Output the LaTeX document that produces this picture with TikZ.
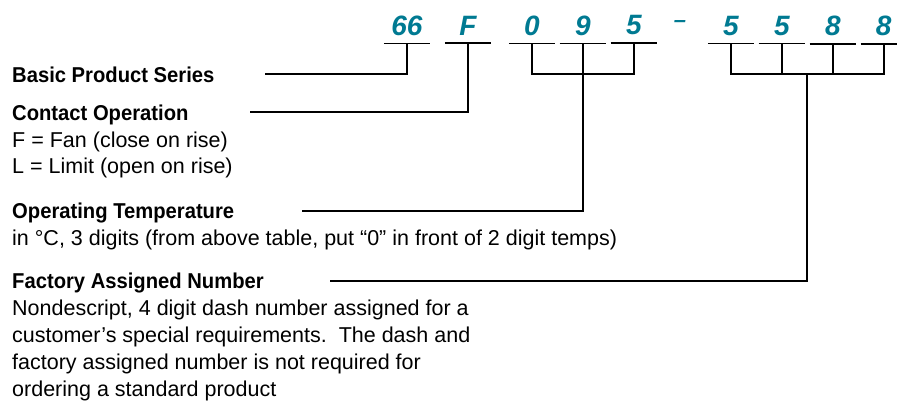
\documentclass[tikz,border=0pt]{standalone}
\usepackage{fontspec}
\setmainfont{Liberation Sans}
\newfontfamily\headfont[FakeStretch=0.94]{Liberation Sans}
\usepackage{tikz}
\usetikzlibrary{positioning,calc}

\definecolor{partteal}{RGB}{0,122,146}

\begin{document}
\begin{tikzpicture}[x=1pt,y=-1pt]
   \tikzset{
     digit/.style   = { font          = \fontsize{28}{30}\selectfont\bfseries\itshape,
                        text          = partteal,
                        minimum width = 46pt,
                        inner xsep    = 0pt,
                        inner ysep    = 8pt,
                        anchor        = base },
     heading/.style = { font       = \fontsize{21.5}{26}\selectfont\headfont\bfseries,
                        inner sep  = 0pt,
                        anchor     = base west },
     detail/.style  = { font       = \fontsize{21.5}{26}\selectfont,
                        inner sep  = 0pt,
                        anchor     = base west },
     rule/.style    = { line width = 1.8pt },
  }

  \useasboundingbox (0,0) rectangle (897,407);

  % part number
  \node [digit] (d66) at (407,35) {66};
  \node [digit] (dF)  at (468,35) {F};
  \node [digit] (d0)  at (532,35) {0};
  \node [digit, right = 4.5pt of d0] (d9)  {9};
  \node [digit, right = 4.5pt of d9] (d5a) {5};
  \node [digit, font = \fontsize{22}{24}\selectfont\bfseries\itshape,
         inner sep = 0pt, minimum width = 0pt] (dash) at (680,27) {–};
  \node [digit] (d5b) at (731,35) {5};
  \node [digit, right = 4.5pt of d5b] (d5c) {5};
  \node [digit, right = 4.5pt of d5c] (d8a) {8};
  \node [digit, right = 4.5pt of d8a] (d8b) {8};

  % labels
  \node [heading] (basic)   at (12,82)  {Basic Product Series};
  \node [heading] (contact) at (12,120) {Contact Operation};
  \node [detail]  (fan)     at (12,147) {F = Fan (close on rise)};
  \node [detail]  (limit)   at (12,173) {L = Limit (open on rise)};
  \node [heading] (optemp)  at (12,218) {Operating Temperature};
  \node [detail]  (tempinfo) at (12,245)
        {in °C, 3 digits (from above table, put “0” in front of 2 digit temps)};
  \node [heading] (factory) at (12,288) {Factory Assigned Number};
  \node [detail]  (factA)   at (12,315) {Nondescript, 4 digit dash number assigned for a};
  \node [detail]  (factB)   at (12,342) {customer’s special requirements.\ \ The dash and};
  \node [detail]  (factC)   at (12,369) {factory assigned number is not required for};
  \node [detail]  (factD)   at (12,396) {ordering a standard product};

  \coordinate (brk)         at (0,74);
  \coordinate (basicend)    at (265,74);
  \coordinate (contactend)  at (250,112);
  \coordinate (optempend)   at (302,211);
  \coordinate (factoryend)  at (330,281);
  \coordinate (dashmid)     at ($(d5c.south)!.5!(d8a.south)$);

  % underlines
  \foreach \d in {d66,dF,d0,d9,d5a,d5b,d5c,d8a,d8b}
    \draw [rule] (\d.south west) -- (\d.south east);

  % connectors
  \draw [rule] (basicend) -| (d66.south);
  \draw [rule] (contactend) -| (dF.south);
  \draw [rule] (d0.south) |- (d5a.south |- brk) -- (d5a.south);
  \draw [rule] (optempend) -| (d9.south);
  \draw [rule] (d5b.south) |- (d8b.south |- brk) -- (d8b.south);
  \draw [rule] (d5c.south) -- (d5c.south |- brk);
  \draw [rule] (d8a.south) -- (d8a.south |- brk);
  \draw [rule] (factoryend) -| (dashmid |- brk);

\end{tikzpicture}
\end{document}
